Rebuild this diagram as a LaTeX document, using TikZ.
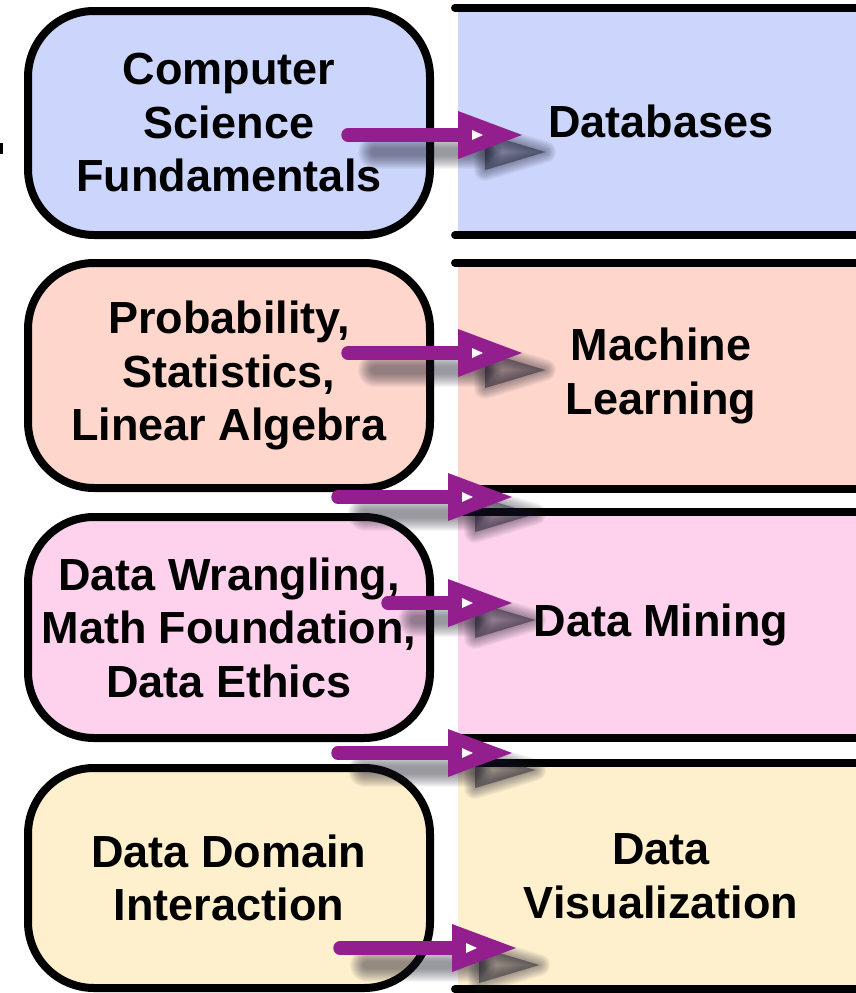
\documentclass[tikz,border=0pt]{standalone}
\usepackage{fontspec}
\newfontfamily\diagfont{Liberation Sans}

\definecolor{csblue}{HTML}{CCD5FC}
\definecolor{statpeach}{HTML}{FED6CC}
\definecolor{wranglepink}{HTML}{FED2EC}
\definecolor{domainyellow}{HTML}{FEEFCD}
\definecolor{arrowpurple}{HTML}{931F8F}
\definecolor{shadowtone}{HTML}{202030}

\tikzset{
  labeltext/.style={font={\diagfont\bfseries\fontsize{45}{53.5}\selectfont}, align=center, inner sep=0pt},
  topic/.style={labeltext, draw=black, line width=8pt, rounded corners=66pt, minimum width=402pt},
  course/.style={labeltext, minimum width=406pt},
  rulebar/.style={draw=black, line width=7.5pt, line cap=round},
  shaft/.style={draw=arrowpurple, line width=13.5pt, line cap=round},
}

% soft drop shadow under a fat arrow from #1 to head base #2
\newcommand\fatarrowshadow[2]{%
  \foreach \i [evaluate=\i as \sw using {34-2*\i},
               evaluate=\i as \hw using {max(22-2*\i,0.01)}] in {0,...,13}{%
    \draw[shadowtone, opacity=0.042, line width=\sw pt, line cap=round]
      ([shift={(27,17)}]#1) -- ([shift={(27,17)}]#2);
    \filldraw[shadowtone, opacity=0.042, line width=\hw pt, line join=round]
      ([shift={(27,17)}]#2) ++(0,-18) -- ++(60,18) -- ++(-60,18) -- cycle;
  }}
% fat purple arrow: shaft from #1 to #2, triangular head starting at #2
\newcommand\fatarrow[2]{%
  \draw[shaft] (#1) -- (#2);
  \fill[arrowpurple] (#2) ++(0,-24) -- ++(64,24) -- ++(-64,24) -- cycle;
  \fill[white] (#2) ++(14,-5) -- ++(11,5) -- ++(-11,5) -- cycle;
}

\begin{document}
\begin{tikzpicture}[x=1pt, y=-1pt]
  \useasboundingbox (0,0) rectangle (855,993);

  % course bands on the right
  \node[course, fill=csblue, minimum height=227pt] (db) at (661,121.5) {Databases};
  \node[course, fill=statpeach, minimum height=226pt] (ml) at (661,376) {Machine\\Learning};
  \node[course, fill=wranglepink, minimum height=226pt] (dm) at (661,625) {Data Mining};
  \node[course, fill=domainyellow, minimum height=226pt] (dv) at (661,876) {Data\\Visualization};
  \foreach \n in {db,ml,dm,dv}{
    \draw[rulebar] ([xshift=-3pt]\n.north west) -- (\n.north east);
    \draw[rulebar] ([xshift=-3pt]\n.south west) -- (\n.south east);
  }

  % foundation topics on the left
  \node[topic, fill=csblue, minimum height=224pt] (cs) at (229,123) {Computer\\Science\\Fundamentals};
  \node[topic, fill=statpeach, minimum height=225pt] (ps) at (229,375.5) {Probability,\\Statistics,\\Linear Algebra};
  \node[topic, fill=wranglepink, minimum height=221pt] (dw) at (229,627.5) {Data Wrangling,\\Math Foundation,\\Data Ethics};
  \node[topic, fill=domainyellow, minimum height=220pt] (dd) at (229,878) {Data Domain\\Interaction};

  % small mark on the left edge
  \fill[black] (0,143) rectangle (3,154);

  % arrow anchors: start of shaft and base of head
  \coordinate (s1) at (348,135);  \coordinate (b1) at (458,135);
  \coordinate (s2) at (348,353);  \coordinate (b2) at (458,353);
  \coordinate (s3) at (338,497);  \coordinate (b3) at (448,497);
  \coordinate (s4) at (388,603);  \coordinate (b4) at (448,603);
  \coordinate (s5) at (338,753);  \coordinate (b5) at (448,753);
  \coordinate (s6) at (340,948);  \coordinate (b6) at (452,948);

  \foreach \k in {1,...,6}{\fatarrowshadow{s\k}{b\k}}
  \foreach \k in {1,...,6}{\fatarrow{s\k}{b\k}}
\end{tikzpicture}
\end{document}
